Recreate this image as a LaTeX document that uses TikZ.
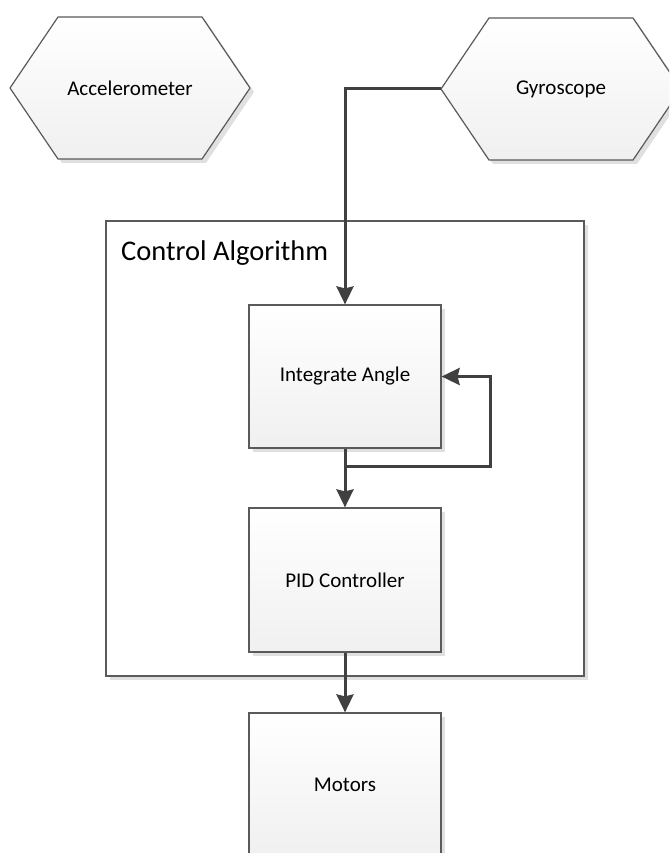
\documentclass[tikz,border=0pt]{standalone}
\usepackage{fontspec}
\setmainfont{Carlito}
\usepackage{tikz}
\usepackage{xcolor}
\usetikzlibrary{arrows.meta}
\usetikzlibrary{shadows}

\definecolor{edge}{HTML}{5A5A5A}
\definecolor{wire}{HTML}{404040}
\definecolor{boxbot}{HTML}{F0F0F0}

\tikzset{
  shade3d/.style={draw=edge, line width=1.2pt, top color=white, bottom color=boxbot,
    general shadow={fill=black!12, shadow xshift=4pt, shadow yshift=-4pt}},
  block/.style={shade3d, minimum width=192pt, inner sep=0pt, font=\fontsize{21}{25}\selectfont},
  hexa/.style={shade3d, line join=miter},
  hexlabel/.style={minimum width=240pt, minimum height=142pt, inner sep=0pt, outer sep=0pt,
    font=\fontsize{21}{25}\selectfont},
  flow/.style={draw=wire, line width=3pt, -{Stealth[length=18pt, width=17pt, inset=2pt]}}
}

\begin{document}
\begin{tikzpicture}[x=1pt, y=-1pt]
\useasboundingbox (0,0) rectangle (669,853);
\clip (0,0) rectangle (669,853);

% sensors
\path[hexa] (10,88) -- (58,17) -- (202,17) -- (250,88) -- (202,159) -- (58,159) -- cycle;
\node[hexlabel] (acc) at (130,88) {Accelerometer};
\path[hexa] (441,89) -- (489,18) -- (633,18) -- (681,89) -- (633,160) -- (489,160) -- cycle;
\node[hexlabel] (gyro) at (561,89) {Gyroscope};

% control algorithm frame
\node[draw=edge, line width=1.2pt, fill=white, minimum width=478pt, minimum height=455pt,
  general shadow={fill=black!12, shadow xshift=4pt, shadow yshift=-4pt}] (ctrl) at (345,448.5) {};
\node[anchor=base west, inner sep=0pt, font=\fontsize{28.5}{32}\selectfont] (ctrllabel) at (121,260) {Control Algorithm};

\node[block, minimum height=143pt] (integ) at (345,376.5) {Integrate Angle};
\node[block, minimum height=144pt] (pid) at (345,580) {PID Controller};
\node[block, minimum height=143pt] (motors) at (345,784.5) {Motors};

\coordinate (fb) at (490,466);

\draw[flow] (gyro.west) -| (integ.north);
\draw[flow] (integ.south) -- (pid.north);
\draw[flow] (integ.south |- fb) -- (fb) |- (integ.east);
\draw[flow] (pid.south) -- (motors.north);

\end{tikzpicture}
\end{document}
